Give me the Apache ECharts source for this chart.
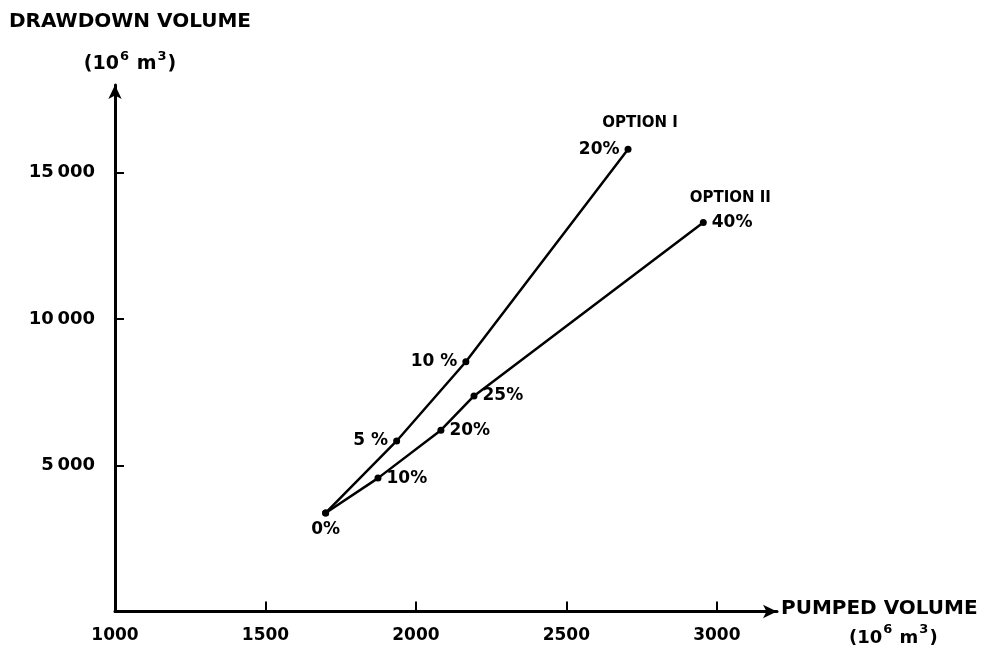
<!DOCTYPE html>
<html>
<head>
<meta charset="utf-8">
<script src="https://cdn.jsdelivr.net/npm/echarts@6/dist/echarts.min.js"></script>
<style>
html,body{margin:0;padding:0;background:#fff;}
#chart{width:991px;height:653px;}
</style>
</head>
<body>
<div id="chart"></div>
<script>
// Data (pumped volume vs drawdown volume, 10^6 m^3)
const optionIPumped   = [1700, 1936, 2166, 2705];
const optionIDrawdown = [3370, 5830, 8540, 15800];
const optionILabels   = ['0%', '5 %', '10 %', '20%'];

const optionIIPumped   = [1700, 1874, 2083, 2193, 2955];
const optionIIDrawdown = [3370, 4560, 6200, 7370, 13300];
const optionIILabels   = ['', '10%', '20%', '25%', '40%'];

const xTickLabels = [1000, 1500, 2000, 2500, 3000];
const yTickLabels = [5000, 10000, 15000];

const seriesNames = ['OPTION I', 'OPTION II'];

// label placement (style, not data)
const optionILabelPos  = ['bottom', 'left', 'left', 'left'];
const optionIILabelPos = ['right', 'right', 'right', 'right', 'right'];

const FONT = 'DejaVu Sans';
const labelStyle = {fontFamily: FONT, fontWeight: 'bold', fontSize: 17, color: '#000'};

function buildData(xs, ys, labels, positions) {
  return xs.map((x, i) => ({
    value: [x, ys[i]],
    label: {show: labels[i] !== '', position: positions[i], distance: 5, formatter: labels[i]}
  }));
}

const chart = echarts.init(document.getElementById('chart'), null, {renderer: 'canvas'});

const axisLineStyle = {color: '#000', width: 3};

function unitRich(titleSize, size, lh, indent) {
  return {
    a: {fontFamily: FONT, fontWeight: 'bold', fontSize: titleSize, color: '#000', lineHeight: lh},
    p: {width: indent, lineHeight: 24},
    b: {fontFamily: FONT, fontWeight: 'bold', fontSize: size, color: '#000', lineHeight: 24, verticalAlign: 'bottom'},
    s: {fontFamily: FONT, fontWeight: 'bold', fontSize: Math.round(size * 0.7), color: '#000', lineHeight: 24, verticalAlign: 'top', padding: [0, 1, 0, 1]}
  };
}

chart.setOption({
  animation: false,
  backgroundColor: '#fff',
  grid: {left: 115, right: 214, top: 85, bottom: 41.5, containLabel: false},
  xAxis: {
    type: 'value',
    min: 1000, max: 3200,
    name: '{a|PUMPED VOLUME}\n{p|}{b|(10}{s|6}{b| m}{s|3}{b|)}',
    nameLocation: 'end',
    nameGap: 4,
    nameTextStyle: {
      align: 'left',
      padding: [18, 0, 0, 0],
      rich: unitRich(20, 18, 29, 68)
    },
    axisLine: {show: true, onZero: false, lineStyle: axisLineStyle, symbol: ['none', 'arrow'], symbolSize: [10, 14]},
    axisTick: {show: true, inside: true, length: 10, lineStyle: {color: '#000', width: 2}, customValues: [1500, 2000, 2500, 3000]},
    axisLabel: {
      show: true, margin: 16, customValues: xTickLabels,
      formatter: v => String(v),
      fontFamily: FONT, fontWeight: 'bold', fontSize: 17, color: '#000'
    },
    splitLine: {show: false}
  },
  yAxis: {
    type: 'value',
    min: 0, max: 18000,
    name: '{a|DRAWDOWN VOLUME}\n{b|(10}{s|6}{b| m}{s|3}{b|)}',
    nameLocation: 'end',
    nameGap: 11,
    nameTextStyle: {
      padding: [0, 0, 0, 30],
      rich: unitRich(20, 19, 56, 0)
    },
    axisLine: {show: true, onZero: false, lineStyle: axisLineStyle, symbol: ['none', 'arrow'], symbolSize: [10, 14]},
    axisTick: {show: true, inside: true, length: 9, lineStyle: {color: '#000', width: 2}, customValues: yTickLabels},
    axisLabel: {
      show: true, margin: 20, customValues: yTickLabels,
      formatter: v => String(v).replace(/(\d)(\d{3})$/, '$1\u2009$2'),
      fontFamily: FONT, fontWeight: 'bold', fontSize: 18, color: '#000'
    },
    splitLine: {show: false}
  },
  series: [
    {
      name: seriesNames[0],
      type: 'line',
      data: buildData(optionIPumped, optionIDrawdown, optionILabels, optionILabelPos),
      symbol: 'circle', symbolSize: 7,
      itemStyle: {color: '#000'},
      lineStyle: {color: '#000', width: 2.5},
      label: labelStyle,
      markPoint: {
        symbol: 'circle', symbolSize: 0,
        data: [{coord: [optionIPumped[3], optionIDrawdown[3]]}],
        label: {show: true, position: 'inside', offset: [12, -26], formatter: seriesNames[0],
                fontFamily: FONT, fontWeight: 'bold', fontSize: 15, color: '#000'}
      },
      z: 3
    },
    {
      name: seriesNames[1],
      type: 'line',
      data: buildData(optionIIPumped, optionIIDrawdown, optionIILabels, optionIILabelPos),
      symbol: 'circle', symbolSize: 7,
      itemStyle: {color: '#000'},
      lineStyle: {color: '#000', width: 2.5},
      label: labelStyle,
      markPoint: {
        symbol: 'circle', symbolSize: 0,
        data: [{coord: [optionIIPumped[4], optionIIDrawdown[4]]}],
        label: {show: true, position: 'inside', offset: [27, -24], formatter: seriesNames[1],
                fontFamily: FONT, fontWeight: 'bold', fontSize: 15, color: '#000'}
      },
      z: 3
    }
  ]
});
</script>
</body>
</html>
